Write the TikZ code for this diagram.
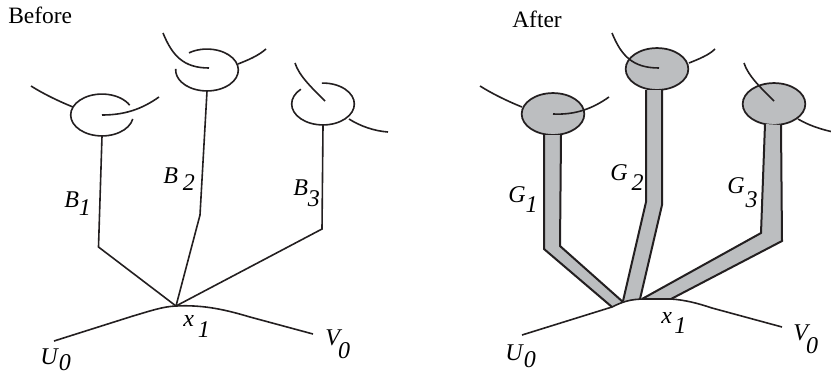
\documentclass[tikz,border=0pt]{standalone}
\usepackage{fontspec}
\setmainfont{Liberation Serif}
\usetikzlibrary{shapes.geometric}
\definecolor{inkline}{RGB}{35,31,32}
\definecolor{bandgray}{RGB}{188,190,192}
\newdimen\pxu \pxu=0.75pt
\newcommand{\sublab}[4]{\textit{#1}\hspace{#3\pxu}\raisebox{-#4\pxu}{\textit{#2}}}
\newcommand{\brokenring}[3]{\draw[strand] ([shift={(#2:23.5pt and 15.7pt)}]#1.center) arc[start angle=#2,end angle=#3,x radius=23.5pt,y radius=15.7pt];}
\tikzset{
  strand/.style={draw=inkline,line width=1.2pt},
  edgeline/.style={draw=inkline,line width=1.5pt},
  band/.style={fill=bandgray,draw=none},
  spot/.style={ellipse,inner sep=0pt,minimum width=47pt,minimum height=31.4pt},
  disc/.style={spot,fill=bandgray,draw=inkline,line width=1.3pt},
  lab/.style={inner sep=0pt,anchor=base west,font=\fontsize{18}{20}\selectfont},
  title/.style={inner sep=0pt,anchor=base west,font=\fontsize{17.6}{20}\selectfont}
}
\begin{document}
\begin{tikzpicture}[x=0.75pt,y=-0.75pt]
  \useasboundingbox (0,0) rectangle (831,375);
  % before
  \node[title] (before) at (8,23) {Before};
  \node[spot] (b1) at (102,115) {};
  \node[spot] (b2) at (207,70) {};
  \node[spot] (b3) at (323,104) {};
  \coordinate (x1) at (176,306);
  \coordinate (k1) at (98.5,247);
  \coordinate (k2) at (200,215);
  \coordinate (k3) at (322,229);
  \coordinate (u0) at (54,341);
  \coordinate (v0) at (313,334);
  \brokenring{b1}{-11}{-332}
  \brokenring{b2}{125}{-183}
  \brokenring{b3}{135}{452}
  \draw[strand] (31,86) .. controls (42,93) and (58,101) .. (73,107);
  \draw[strand] (b1.center) .. controls (125,115) and (142,109) .. (159,97);
  \draw[strand] (163,33) .. controls (172,55) and (183,68) .. (209,68);
  \draw[strand] (238,64) .. controls (248,60) and (258,56) .. (266,49);
  \draw[strand] (295,63) .. controls (299,76) and (313,89) .. (325,101);
  \draw[strand] (349,119) .. controls (360,126) and (374,131) .. (388,132);
  \draw[strand] (b1.south) -- (k1) -- (x1);
  \draw[strand] (b2.south) -- (k2) -- (x1);
  \draw[strand] (b3.south) -- (k3) -- (x1);
  \draw[strand] (u0) -- (133,316) .. controls (150,311) and (163,306.5) .. (x1)
    .. controls (205,304.5) and (228,310.5) .. (250,317) -- (v0);
  \node[lab] (bl1) at (64,207) {\sublab{B}{1}{0}{8}};
  \node[lab] (bl2) at (163,183) {\sublab{B}{2}{5}{7}};
  \node[lab] (bl3) at (293,195) {\sublab{B}{3}{0}{11}};
  \node[lab] (xl) at (183,326) {\sublab{x}{1}{4}{11}};
  \node[lab] (ul) at (40,364) {\sublab{U}{0}{0}{6}};
  \node[lab] (vl) at (325,345) {\sublab{V}{0}{-4}{13}};
  % after
  \node[title] (after) at (512,27) {After};
  \node[disc] (g1) at (553,114) {};
  \node[disc] (g2) at (657,69) {};
  \node[disc] (g3) at (774,104) {};
  \coordinate (gu) at (522,335);
  \coordinate (gv) at (782,327);
  \fill[band] (544,135) -- (544,249) -- (612,307) -- (623,302) -- (560,246) -- (561,135) -- cycle;
  \fill[band] (646,90) -- (646,202) -- (623,301) -- (640,299) -- (662,205) -- (662,90) -- cycle;
  \fill[band] (765,124) -- (761,233) -- (642,299) -- (671,299) -- (782,241) -- (781,125) -- cycle;
  \draw[edgeline] (544,135) -- (544,249) -- (612,307);
  \draw[edgeline] (561,135) -- (560,246) -- (623,302);
  \draw[edgeline] (646,90) -- (646,202) -- (623,301);
  \draw[edgeline] (662,90) -- (662,205) -- (640,299);
  \draw[edgeline] (765,124) -- (761,233) -- (642,299);
  \draw[edgeline] (781,125) -- (782,241) -- (671,299);
  \draw[strand] (480,86) .. controls (491,93) and (507,101) .. (522,107);
  \draw[strand] (g1.center) .. controls (575,115) and (592,109) .. (609,97);
  \draw[strand] (612,33) .. controls (621,55) and (632,68) .. (659,68);
  \draw[strand] (689,63) .. controls (699,59) and (709,55) .. (715,49);
  \draw[strand] (744,63) .. controls (748,76) and (762,89) .. (774,101);
  \draw[strand] (798,119) .. controls (808,125) and (820,129) .. (831,131.5);
  \draw[strand] (gu) -- (612,307) .. controls (622,302) and (630,299) .. (645,299)
    -- (671,299) .. controls (685,300) and (697,303) .. (712,308) -- (gv);
  \node[lab] (gl1) at (508,202) {\sublab{G}{1}{0}{10}};
  \node[lab] (gl2) at (610,180) {\sublab{G}{2}{4}{10}};
  \node[lab] (gl3) at (727,193) {\sublab{G}{3}{1}{14}};
  \node[lab] (gxl) at (661,323) {\sublab{x}{1}{2.5}{10}};
  \node[lab] (gul) at (505,360) {\sublab{U}{0}{0}{7}};
  \node[lab] (gvl) at (793,340) {\sublab{V}{0}{-4}{13}};
\end{tikzpicture}
\end{document}
